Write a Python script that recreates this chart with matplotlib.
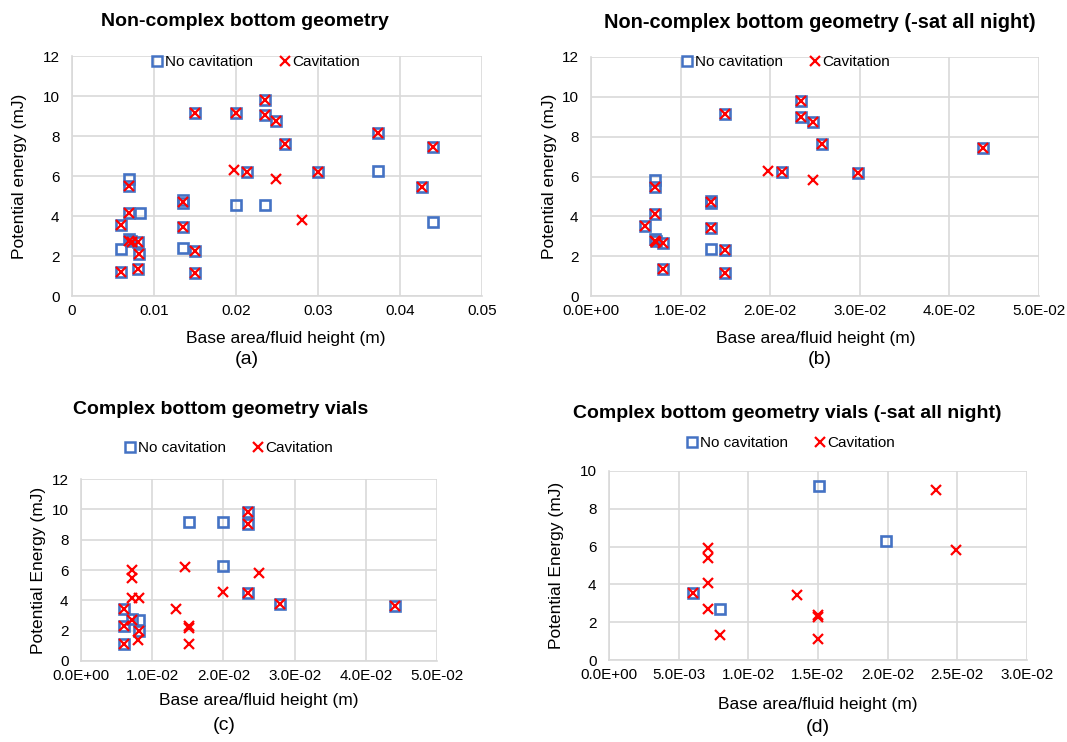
"""
Potential energy vs base area / fluid height, four scatter panels
"""
import matplotlib
matplotlib.use("Agg")
import matplotlib.pyplot as plt
from matplotlib.ticker import FuncFormatter, MultipleLocator
from matplotlib.lines import Line2D

plt.rcParams['font.family'] = ['Liberation Sans', 'DejaVu Sans']

BLUE = '#4472C4'
RED = '#FF0000'
GRID = '#D9D9D9'

# (a) non-complex bottom geometry
a_nocav_x = [0.0060, 0.0060, 0.0060, 0.0070, 0.0070, 0.0070, 0.0083, 0.0070, 0.0072, 0.0080,
             0.0082, 0.0080, 0.0135, 0.0135, 0.0135, 0.0135, 0.0150, 0.0150, 0.0150, 0.0200,
             0.0200, 0.0214, 0.0235, 0.0235, 0.0235, 0.0249, 0.0260, 0.0300, 0.0373, 0.0373,
             0.0427, 0.0440, 0.0440]
a_nocav_y = [1.18, 2.34, 3.53, 5.83, 5.50, 4.15, 4.15, 2.85, 2.75, 2.69,
             2.08, 1.34, 4.78, 4.65, 3.43, 2.39, 2.27, 1.16, 9.16, 9.16,
             4.57, 6.22, 9.78, 9.03, 4.54, 8.74, 7.60, 6.20, 8.15, 6.24,
             5.45, 7.46, 3.71]
a_cav_x = [0.0060, 0.0060, 0.0070, 0.0070, 0.0070, 0.0073, 0.0080, 0.0082, 0.0080, 0.0135,
           0.0135, 0.0150, 0.0150, 0.0150, 0.0198, 0.0200, 0.0214, 0.0235, 0.0235, 0.0249,
           0.0249, 0.0260, 0.0280, 0.0300, 0.0373, 0.0427, 0.0440]
a_cav_y = [1.18, 3.53, 5.50, 4.15, 2.76, 2.70, 2.69, 2.08, 1.36, 4.72,
           3.43, 2.27, 1.16, 9.16, 6.29, 9.16, 6.22, 9.78, 9.03, 8.74,
           5.83, 7.60, 3.82, 6.20, 8.15, 5.45, 7.46]

# (b) non-complex bottom geometry, sat all night removed
b_nocav_x = [0.0060, 0.0071, 0.0071, 0.0071, 0.0071, 0.0072, 0.0080, 0.0080, 0.0134, 0.0134,
             0.0134, 0.0134, 0.0150, 0.0150, 0.0150, 0.0213, 0.0234, 0.0234, 0.0248, 0.0258,
             0.0298, 0.0437]
b_nocav_y = [3.52, 5.82, 5.49, 4.14, 2.85, 2.75, 2.68, 1.34, 4.78, 4.65,
             3.42, 2.38, 2.30, 1.16, 9.14, 6.21, 9.77, 9.01, 8.72, 7.62,
             6.19, 7.45]
b_cav_x = [0.0060, 0.0071, 0.0071, 0.0071, 0.0073, 0.0080, 0.0080, 0.0134, 0.0134, 0.0150,
           0.0150, 0.0150, 0.0197, 0.0213, 0.0234, 0.0234, 0.0248, 0.0248, 0.0258, 0.0298,
           0.0437]
b_cav_y = [3.52, 5.49, 4.14, 2.76, 2.70, 2.68, 1.34, 4.70, 3.42, 2.30,
           1.16, 9.14, 6.27, 6.21, 9.77, 9.01, 8.72, 5.82, 7.62, 6.19,
           7.45]

# (c) complex bottom geometry vials
c_nocav_x = [0.0061, 0.0061, 0.0061, 0.0072, 0.0082, 0.0082, 0.0152, 0.0199, 0.0235, 0.0235,
             0.0199, 0.0235, 0.0280, 0.0441]
c_nocav_y = [3.46, 2.29, 1.10, 2.75, 2.69, 1.98, 9.18, 9.18, 9.80, 9.03,
             6.28, 4.49, 3.77, 3.63]
c_cav_x = [0.0061, 0.0061, 0.0061, 0.0072, 0.0072, 0.0072, 0.0082, 0.0072, 0.0082, 0.0080,
           0.0134, 0.0152, 0.0152, 0.0152, 0.0146, 0.0200, 0.0235, 0.0235, 0.0250, 0.0235,
           0.0280, 0.0441]
c_cav_y = [3.46, 2.29, 1.10, 5.99, 5.44, 4.16, 4.16, 2.69, 1.98, 1.37,
           3.41, 2.29, 2.20, 1.15, 6.21, 4.56, 9.80, 9.03, 5.81, 4.49,
           3.77, 3.63]

# (d) complex bottom geometry vials, sat all night removed
d_nocav_x = [0.0060, 0.0080, 0.0151, 0.0199]
d_nocav_y = [3.52, 2.68, 9.19, 6.29]
d_cav_x = [0.0060, 0.0071, 0.0071, 0.0071, 0.0071, 0.0080, 0.0135, 0.0150, 0.0150, 0.0150,
           0.0235, 0.0249]
d_cav_y = [3.52, 5.95, 5.42, 4.10, 2.69, 1.32, 3.43, 2.36, 2.25, 1.11,
           9.01, 5.81]

W, H = 1067, 742


def px(x, y):
    return x / W, 1 - y / H


def sci(v, pos):
    return "%.1E" % v


def plain(v, pos):
    return "0" if v == 0 else "%g" % round(v, 3)


def draw(fig, rect, nx, ny, cx, cy, xmax, xstep, ymax, fmt):
    ax = fig.add_axes(rect)
    ax.plot(nx, ny, 's', ms=7.8, mfc='none', mec=BLUE, mew=1.9, zorder=3)
    ax.plot(cx, cy, 'x', ms=6.5, color=RED, mew=1.6, zorder=4)
    ax.set_xlim(0, xmax)
    ax.set_ylim(0, ymax)
    ax.xaxis.set_major_locator(MultipleLocator(xstep))
    ax.yaxis.set_major_locator(MultipleLocator(2))
    ax.xaxis.set_major_formatter(FuncFormatter(fmt))
    ax.grid(True, color=GRID, lw=1.2, zorder=0)
    ax.set_axisbelow(True)
    for s in ['top', 'right']:
        ax.spines[s].set_visible(False)
    for s in ['left', 'bottom']:
        ax.spines[s].set_color(GRID)
        ax.spines[s].set_linewidth(1.2)
    ax.tick_params(axis='y', length=0, labelsize=11, pad=9)
    ax.tick_params(axis='x', length=0, labelsize=11, pad=6)
    return ax


def legend(fig, x, y):
    handles = [Line2D([], [], ls='none', marker='s', ms=7, mfc='none', mec=BLUE, mew=1.8),
               Line2D([], [], ls='none', marker='x', ms=6.5, color=RED, mew=1.6)]
    fig.legend(handles, ['No cavitation', 'Cavitation'], loc='center',
               bbox_to_anchor=px(x, y), ncol=2, frameon=False, fontsize=11,
               handletextpad=0.0, columnspacing=1.6, handlelength=1.0)


fig = plt.figure(figsize=(W / 100, H / 100), dpi=100)

draw(fig, [72 / W, 1 - 296 / H, 410 / W, 240 / H], a_nocav_x, a_nocav_y, a_cav_x, a_cav_y,
     0.05, 0.01, 12, plain)
draw(fig, [591 / W, 1 - 296 / H, 448 / W, 239 / H], b_nocav_x, b_nocav_y, b_cav_x, b_cav_y,
     0.05, 0.01, 12, sci)
draw(fig, [81 / W, 1 - 661 / H, 356 / W, 182 / H], c_nocav_x, c_nocav_y, c_cav_x, c_cav_y,
     0.05, 0.01, 12, sci)
draw(fig, [609 / W, 1 - 660 / H, 418 / W, 189 / H], d_nocav_x, d_nocav_y, d_cav_x, d_cav_y,
     0.03, 0.005, 10, sci)

# titles
fig.text(*px(245, 22), 'Non-complex bottom geometry', ha='center', va='center',
         fontsize=14, fontweight='bold')
fig.text(*px(820, 22), 'Non-complex bottom geometry (-sat all night)', ha='center',
         va='center', fontsize=14.4, fontweight='bold')
fig.text(*px(221, 410), 'Complex bottom geometry vials', ha='center', va='center',
         fontsize=14, fontweight='bold')
fig.text(*px(787, 414), 'Complex bottom geometry vials (-sat all night)', ha='center',
         va='center', fontsize=14, fontweight='bold')

legend(fig, 255, 62)
legend(fig, 785, 62)
legend(fig, 228, 448)
legend(fig, 790, 443)

# axis labels
xl = 'Base area/fluid height (m)'
fig.text(*px(286, 338), xl, ha='center', va='center', fontsize=12.5)
fig.text(*px(816, 338), xl, ha='center', va='center', fontsize=12.5)
fig.text(*px(259, 701), xl, ha='center', va='center', fontsize=12.5)
fig.text(*px(818, 704), xl, ha='center', va='center', fontsize=12.5)

fig.text(*px(20, 176), 'Potential energy (mJ)', ha='center', va='center', rotation=90, fontsize=12.5)
fig.text(*px(550, 176), 'Potential energy (mJ)', ha='center', va='center', rotation=90, fontsize=12.5)
fig.text(*px(38, 570), 'Potential Energy (mJ)', ha='center', va='center', rotation=90, fontsize=12.5)
fig.text(*px(556, 565), 'Potential Energy (mJ)', ha='center', va='center', rotation=90, fontsize=12.5)

# panel letters
fig.text(*px(247, 360), '(a)', ha='center', va='center', fontsize=14)
fig.text(*px(820, 360), '(b)', ha='center', va='center', fontsize=14)
fig.text(*px(224, 725), '(c)', ha='center', va='center', fontsize=14)
fig.text(*px(818, 728), '(d)', ha='center', va='center', fontsize=14)

fig.savefig('out.png', dpi=100)
